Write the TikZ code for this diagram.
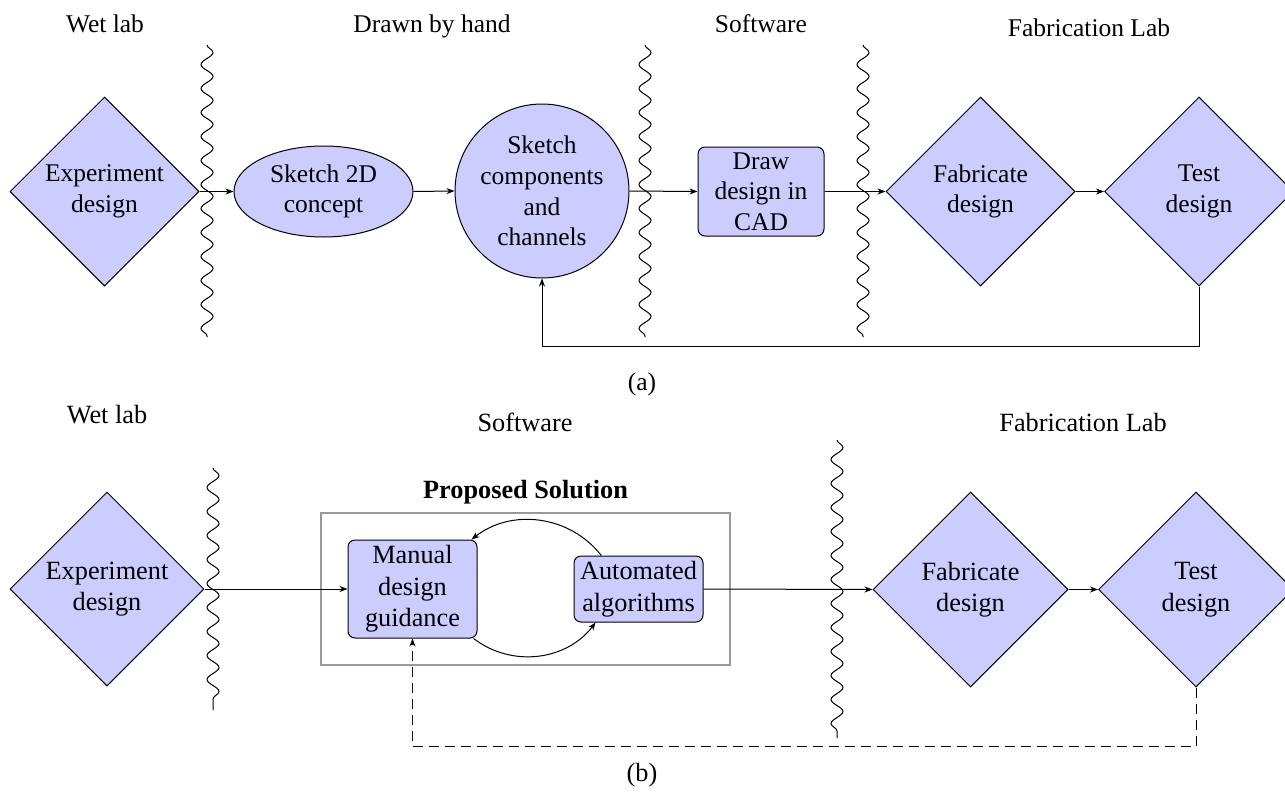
\documentclass[tikz,border=0pt]{standalone}
\usepackage{fontspec}
\setmainfont{LiberationSerif}[Extension=.ttf, UprightFont=*-Regular, BoldFont=*-Bold, ItalicFont=*-Italic, BoldItalicFont=*-BoldItalic]
\usetikzlibrary{shapes.geometric,arrows.meta,decorations.pathmorphing,calc}
\tikzset{
  fa/.style={font=\fontsize{25.5}{30.6}\selectfont},
  fb/.style={font=\fontsize{26.3}{31.5}\selectfont},
  proc/.style={draw=black, fill=blue!20, line width=1pt, align=center, inner sep=0pt},
  dia/.style={proc, diamond, minimum width=#1, minimum height=#1},
  rbox/.style={proc, rectangle, rounded corners=7pt},
  arr/.style={-{Stealth[length=8pt,width=6pt,inset=2.5pt]}, line width=1pt},
  wavy/.style={decorate, decoration={snake, amplitude=6pt, segment length=24pt}, line width=1pt},
  lbl/.style={anchor=base, inner sep=0pt},
}
\begin{document}
\begin{tikzpicture}[x=1pt,y=-1pt]
\useasboundingbox (0,0) rectangle (1285,795);

% ---------- (a) ----------
\node[fa, lbl] (la1) at (105,32) {Wet lab};
\node[fa, lbl] (la2) at (432,32) {Drawn by hand};
\node[fa, lbl] (la3) at (761,32) {Software};
\node[fa, lbl] (la4) at (1089,36) {Fabrication Lab};

\draw[wavy] (207,45) -- (207,337);
\draw[wavy] (645,45) -- (645,337);
\draw[wavy] (863,45) -- (863,337);

\node[dia=189, fa] (exa) at (104.5,191.5) {Experiment\\design};
\node[proc, ellipse, minimum width=179, minimum height=91, fa] (ske) at (323.5,191.5) {Sketch 2D\\concept};
\node[proc, circle, minimum size=174, fa] (cir) at (542,191) {Sketch\\components\\and\\channels};
\node[rbox, minimum width=126, minimum height=89, fa] (cad) at (761,191.5) {Draw\\design in\\CAD};
\node[dia=189, fa] (faba) at (980.5,191.5) {Fabricate\\design};
\node[dia=189, fa] (tsta) at (1199,191.5) {Test\\design};

\draw[arr] (exa.east) -- (ske.west);
\draw[arr] (ske.east) -- (cir.west);
\draw[arr] (cir.east) -- (cad.west);
\draw[arr] (cad.east) -- (faba.west);
\draw[arr] (faba.east) -- (tsta.west);
\draw[arr] (tsta.south) -- ++(0,60) -| (cir.south);

\node[fa] (capa) at (642,384) {(a)};

% ---------- (b) ----------
\node[fb, lbl] (lb1) at (107,423) {Wet lab};
\node[fb, lbl] (lb2) at (525,431) {Software};
\node[fb, lbl] (lb3) at (1083,431) {Fabrication Lab};

\draw[wavy] (213,468) -- (213,710);
\draw[wavy] (837,440) -- (837,738);

\node[draw=black!40, line width=1.2pt, minimum width=409, minimum height=152, inner sep=0pt] (psb) at (525.5,589) {};
\node[lbl, font=\fontsize{26.3}{31.5}\selectfont\bfseries] (pst) at (525.5,498) {Proposed Solution};

\node[dia=194, fb] (exb) at (107,589) {Experiment\\design};
\node[rbox, minimum width=129, minimum height=98, fb] (man) at (412.5,589) {Manual\\design\\guidance};
\node[rbox, minimum width=129, minimum height=66, fb] (aut) at (638.5,589) {Automated\\algorithms};
\node[dia=195, fb] (fabb) at (970.5,589.5) {Fabricate\\design};
\node[dia=195, fb] (tstb) at (1196,589.5) {Test\\design};

\draw[arr] (exb.east) -- (man.west);
\draw[arr] (aut.east) -- (fabb.west);
\draw[arr] (fabb.east) -- (tstb.west);
\draw[arr] (man.-39) to[bend right=45] (aut.218);
\draw[arr] (aut.138) to[bend right=45] (man.40);
\draw[arr, dash pattern=on 10pt off 6pt] (tstb.south) -- ++(0,59) -| (man.south);

\node[fb] (capb) at (642,775) {(b)};
\end{tikzpicture}
\end{document}
